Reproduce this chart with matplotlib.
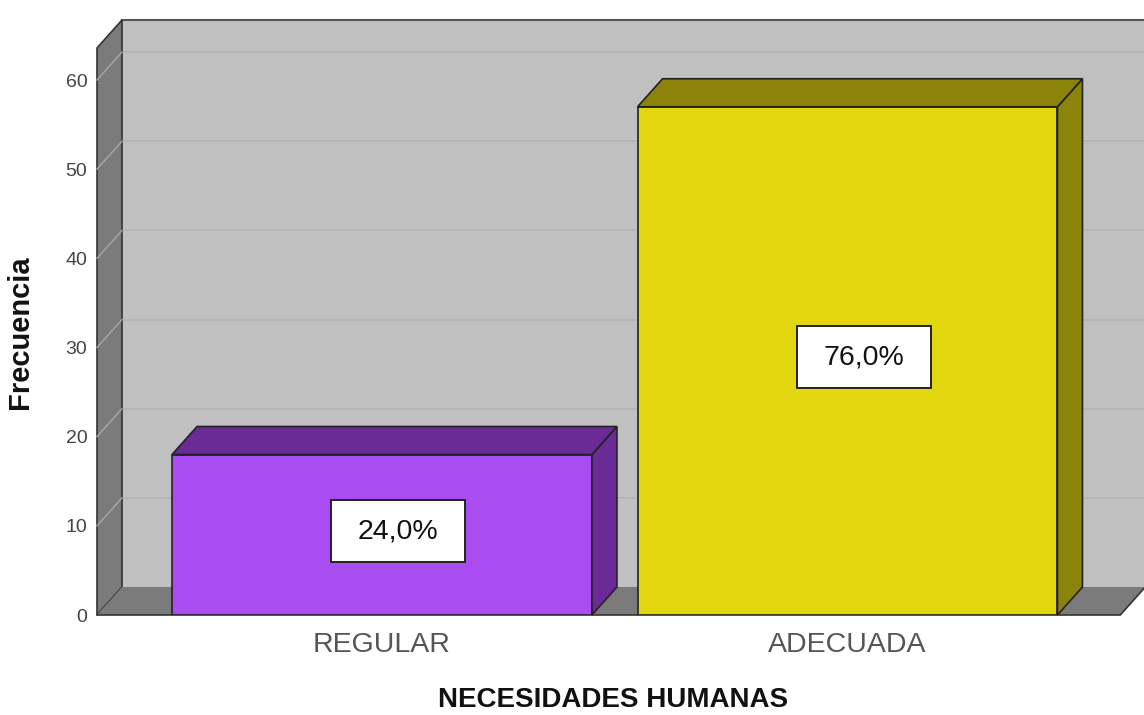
import numpy as np
import matplotlib
matplotlib.use('Agg')
import matplotlib.pyplot as plt
from matplotlib.patches import Polygon, Rectangle

plt.rcParams['font.family'] = ['Liberation Sans', 'DejaVu Sans']

# data
categories = ['REGULAR', 'ADECUADA']
freq = [18, 57]
front_colors = ['#a94cf1', '#e2d60e']
dark_colors = ['#6a2b96', '#8b830a']
yticks = [0, 10, 20, 30, 40, 50, 60]

total = sum(freq)
pct_labels = [f'{100 * f / total:.1f}%'.replace('.', ',') for f in freq]

# 3D look
dx, dy = 0.0537, 3.14
bar_w = 0.902
x_left, x_right = -0.6122, 1.6369
ytop = 63.59

fig = plt.figure(figsize=(11.44, 7.15), dpi=100)
ax = fig.add_axes([97 / 1144, 100 / 715, 1047 / 1144, 595 / 715])
ax.set_xlim(x_left, x_right)
ax.set_ylim(0, ytop + dy)
for s in ax.spines.values():
    s.set_visible(False)

wall_c = '#c0c0c0'
side_c = '#7b7b7b'

# back wall
ax.add_patch(Polygon([[x_left + dx, dy], [x_right + 0.2, dy], [x_right + 0.2, ytop + dy],
                      [x_left + dx, ytop + dy]], closed=True, facecolor=wall_c,
                     edgecolor='none', zorder=0, clip_on=False))
ax.plot([x_left + dx, x_right + 0.2], [ytop + dy, ytop + dy], color='#555555', lw=1.5,
        zorder=1, clip_on=False)
# left wall
ax.add_patch(Polygon([[x_left, 0], [x_left + dx, dy], [x_left + dx, ytop + dy], [x_left, ytop]],
                     closed=True, facecolor=side_c, edgecolor='#333333', lw=1.2, zorder=1,
                     clip_on=False))
# floor
floor_r = 1.586
ax.add_patch(Polygon([[x_left, 0], [floor_r, 0], [floor_r + dx, dy], [x_left + dx, dy]],
                     closed=True, facecolor=side_c, edgecolor='none', zorder=1, clip_on=False))
ax.plot([x_left, floor_r, floor_r + dx], [0, 0, dy], color='#333333', lw=1.2, zorder=2,
        clip_on=False)

# grid lines
for t in yticks[1:]:
    ax.plot([x_left + dx, x_right + 0.2], [t + dy, t + dy], color='#b3b3b3', lw=1.2,
            zorder=0.5, clip_on=False)
    ax.plot([x_left, x_left + dx], [t, t + dy], color='#a8a8a8', lw=1.0, zorder=1.5,
            clip_on=False)

# bars
xs = np.arange(len(categories))
ax.bar(xs, freq, width=bar_w, color=front_colors, edgecolor='#222222', linewidth=1.2, zorder=3)
for x, h, dc in zip(xs, freq, dark_colors):
    x0, x1 = x - bar_w / 2, x + bar_w / 2
    ax.add_patch(Polygon([[x1, 0], [x1 + dx, dy], [x1 + dx, h + dy], [x1, h]], closed=True,
                         facecolor=dc, edgecolor='#222222', lw=1.2, zorder=3, clip_on=False))
    ax.add_patch(Polygon([[x0, h], [x1, h], [x1 + dx, h + dy], [x0 + dx, h + dy]], closed=True,
                         facecolor=dc, edgecolor='#222222', lw=1.2, zorder=3, clip_on=False))

# percentage boxes
box_w, box_h = 0.288, 6.95
for x, h, lab in zip(xs, freq, pct_labels):
    cx, cy = x + 0.035, h / 2 + 0.4
    ax.add_patch(Rectangle((cx - box_w / 2, cy - box_h / 2), box_w, box_h, facecolor='white',
                           edgecolor='#222222', lw=1.4, zorder=4))
    ax.text(cx, cy, lab, ha='center', va='center', fontsize=20.5, color='#111111', zorder=5)

ax.set_yticks(yticks)
ax.set_yticklabels([str(t) for t in yticks], fontsize=14, color='#444444')
ax.set_xticks(xs)
ax.set_xticklabels(categories, fontsize=20.5, color='#555555')
ax.tick_params(axis='y', length=0, pad=7)
ax.tick_params(axis='x', length=0, pad=12)

ax.set_ylabel('Frecuencia', fontsize=21, fontweight='bold', color='#111111')
ax.yaxis.set_label_coords(-0.060, 0.4756)
ax.set_xlabel('NECESIDADES HUMANAS', fontsize=20, fontweight='bold', color='#111111')
ax.xaxis.set_label_coords(0.4928, -0.121)

fig.savefig('out.png', dpi=100)
